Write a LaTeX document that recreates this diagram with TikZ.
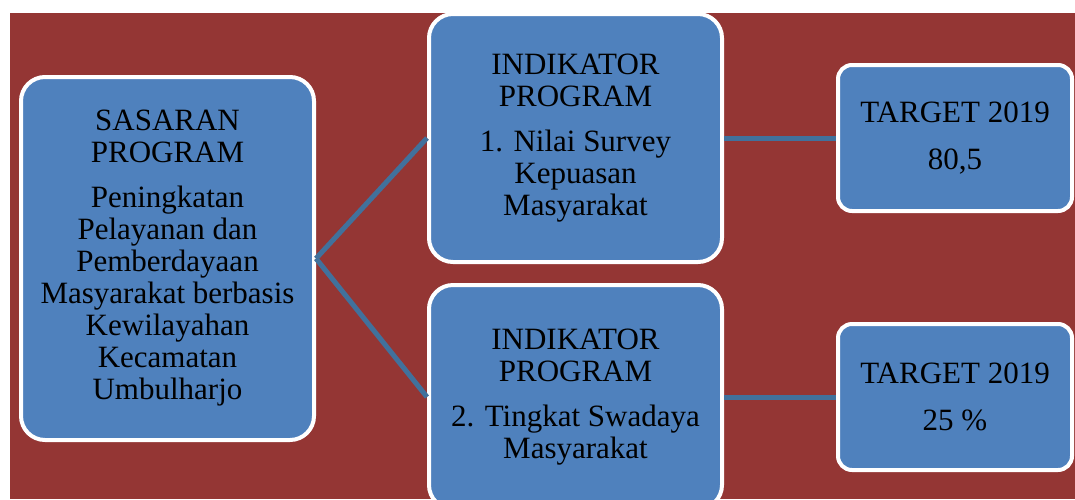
\documentclass[tikz,border=0pt]{standalone}
\usepackage{fontspec}
\setmainfont{Liberation Serif}
\usetikzlibrary{arrows,positioning}
\definecolor{bgred}{HTML}{943634}
\definecolor{boxblue}{HTML}{4F81BD}
\definecolor{linkblue}{HTML}{41719C}

\begin{document}
\begin{tikzpicture}[x=1pt,y=-1pt,semithick]
                  \tikzstyle{every node}=[font=\fontsize{31}{32}\selectfont]
                  \tikzstyle{box}=[draw=white,line width=4pt,fill=boxblue,rounded corners=24pt,align=center,inner sep=0pt]
                  \tikzstyle{target}=[box,rounded corners=14pt,minimum width=234pt,minimum height=146pt]
                  \tikzstyle{link}=[draw=linkblue,line width=5pt]

                  \clip (0,0) rectangle (1075,499);
                  \fill[bgred] (10,13) rectangle (1075,499);

                  \node[box,minimum width=293pt,minimum height=363pt] (sasaran) at (167.5,258.5)
                        {SASARAN\\PROGRAM\\[13pt]Peningkatan\\Pelayanan dan\\Pemberdayaan\\Masyarakat berbasis\\Kewilayahan\\Kecamatan\\Umbulharjo};
                  \node[box,minimum width=293pt,minimum height=248pt] (ind1) at (575.5,138)
                        {INDIKATOR\\PROGRAM\\[13pt]1. Nilai Survey\\Kepuasan\\Masyarakat};
                  \node[box,minimum width=293pt,minimum height=224pt] (ind2) at (575.5,397)
                        {INDIKATOR\\PROGRAM\\[13pt]2. Tingkat Swadaya\\Masyarakat};
                  \node[target] (target1) at (955,138) {TARGET 2019\\[15pt]80,5};
                  \node[target] (target2) at (955,397) {TARGET 2019\\[15pt]25 \%};

                  \path (sasaran.east) edge[link] (ind1.west)
                        (sasaran.east) edge[link] (ind2.west)
                        (ind1.east) edge[link] (target1.west)
                        (ind2.east) edge[link] (target2.west);
                \end{tikzpicture}
\end{document}
